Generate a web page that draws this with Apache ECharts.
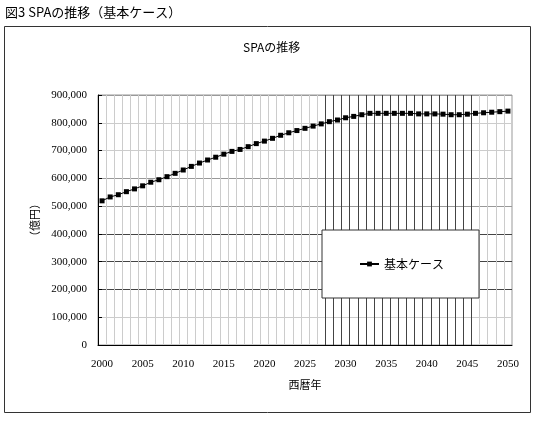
<!DOCTYPE html>
<html><head><meta charset="utf-8">
<script src="https://cdn.jsdelivr.net/npm/echarts@6/dist/echarts.min.js"></script>
<style>html,body{margin:0;padding:0;background:#fff}#c{width:537px;height:424px}</style>
</head><body><div id="c"></div>
<script>
const years = [];
for (let y = 2000; y <= 2050; y++) years.push(String(y));
const seriesName = '基本ケース';
const spaValues = [
  519000, 533000, 541000, 552000, 562000, 573000, 586000, 595000, 606000, 618000,
  630000, 643000, 655000, 666000, 676000, 687000, 697000, 704000, 714000, 725000,
  734000, 744000, 755000, 764000, 772000, 780000, 788000, 796000, 804000, 810000,
  818000, 823000, 829000, 834000, 834000, 834000, 834000, 834000, 834000, 832000,
  832000, 832000, 831000, 829000, 829000, 831000, 834000, 836000, 838000, 840000,
  842000
];
const yTicks = [0, 100000, 200000, 300000, 400000, 500000, 600000, 700000, 800000, 900000];
const figTitle = '図3 SPAの推移（基本ケース）';
const chartTitle = 'SPAの推移';
const xName = '西暦年';
const yName = '（億円）';

const vColors = [];
for (let k = 0; k <= 51; k++) vColors.push(k >= 28 && k <= 46 ? '#444' : '#ccc');
const hColors = ['#888', '#ccc', '#444', '#444', '#444', '#999', '#999', '#ccc', '#ccc', '#999'];

const chart = echarts.init(document.getElementById('c'));
chart.setOption({
  animation: false,
  backgroundColor: '#fff',
  title: [
    {text: figTitle, left: 0, top: 1, textStyle: {fontSize: 13, fontWeight: 'normal', color: '#000', fontFamily: 'Noto Sans CJK JP'}},
    {text: chartTitle, left: 238, top: 36, textStyle: {fontSize: 12, fontWeight: 'normal', color: '#000', fontFamily: 'Noto Sans CJK JP'}}
  ],
  graphic: [{
    type: 'rect', z: -10, silent: true,
    shape: {x: 4.5, y: 26.5, width: 526, height: 386},
    style: {fill: 'none', stroke: '#333', lineWidth: 1}
  }],
  legend: {
    data: [seriesName], left: 322, top: 230,
    padding: [28, 35, 28, 37], itemWidth: 19, itemHeight: 6,
    backgroundColor: '#fff', borderColor: '#333', borderWidth: 1,
    textStyle: {fontSize: 12, color: '#000', fontFamily: 'Noto Sans CJK JP'}
  },
  grid: {left: 98, right: 25, top: 95, bottom: 79, show: true, borderColor: '#999', borderWidth: 1},
  xAxis: {
    type: 'category', data: years, boundaryGap: true,
    name: xName, nameLocation: 'middle', nameGap: 34,
    nameTextStyle: {fontSize: 11, color: '#000', fontFamily: 'Noto Sans CJK JP'},
    axisLine: {lineStyle: {color: '#000', width: 1}},
    axisTick: {inside: true, interval: 0, length: 4, lineStyle: {color: '#000'}},
    axisLabel: {interval: 4, margin: 14, fontSize: 11, color: '#000', fontFamily: 'Liberation Serif'},
    splitLine: {show: true, interval: 0, lineStyle: {color: vColors, width: 1}}
  },
  yAxis: {
    type: 'value', min: 0, max: 900000, interval: 100000,
    name: yName, nameLocation: 'middle', nameGap: 57, nameRotate: 90,
    nameTextStyle: {fontSize: 11, color: '#000', fontFamily: 'Noto Sans CJK JP'},
    axisLine: {show: true, lineStyle: {color: '#000', width: 1}},
    axisTick: {show: true, inside: true, length: 4, lineStyle: {color: '#000'}},
    axisLabel: {margin: 11, fontSize: 11, color: '#000', fontFamily: 'Liberation Serif',
      formatter: v => v.toLocaleString('en-US')},
    splitLine: {show: true, lineStyle: {color: hColors, width: 1}}
  },
  series: [{
    name: seriesName, type: 'line', data: spaValues,
    symbol: 'rect', symbolSize: 5, showSymbol: true,
    lineStyle: {color: '#000', width: 1}, itemStyle: {color: '#000'}
  }]
});
</script></body></html>
